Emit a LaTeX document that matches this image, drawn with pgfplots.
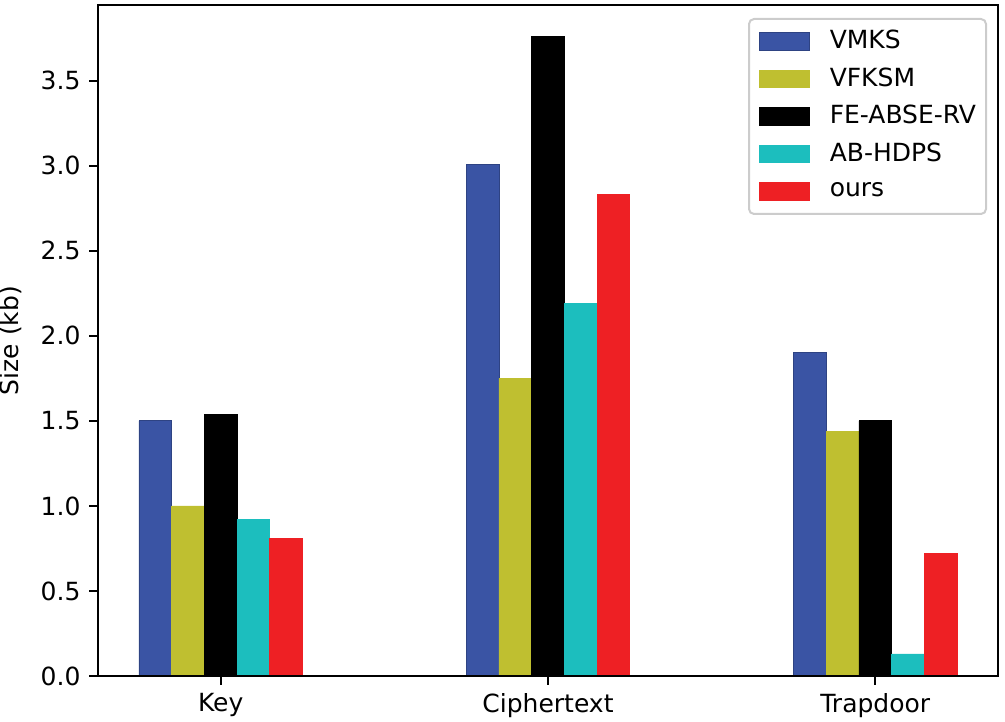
\documentclass[border=0pt]{standalone}
\usepackage{fontspec}
\setmainfont{DejaVu Sans}
\usepackage{pgfplots}
\pgfplotsset{compat=1.18}

\definecolor{cVMKS}{HTML}{3A54A4}
\definecolor{cVFKSM}{HTML}{BFBF30}
\definecolor{cFE}{HTML}{000000}
\definecolor{cAB}{HTML}{1CBEBE}
\definecolor{cOurs}{HTML}{EE2024}

\begin{document}
\begin{tikzpicture}
\begin{axis}[
  scale only axis,
  width=360pt, height=268.4pt,
  xmin=-0.375, xmax=2.375,
  ymin=0, ymax=3.945,
  xtick={0,1,2},
  xticklabels={Key,Ciphertext,Trapdoor},
  ytick={0,0.5,...,3.5},
  yticklabel style={/pgf/number format/.cd, fixed, fixed zerofill, precision=1},
  /pgf/number format/assume math mode=true,
  tick align=outside,
  xtick pos=bottom, ytick pos=left,
  major tick length=3.5pt,
  every tick/.style={black, line width=0.8pt},
  axis line style={line width=0.8pt},
  axis on top,
  ylabel={Size (kb)},
  ylabel style={at={(ticklabel cs:0.5,4pt)}, inner sep=0pt, anchor=south},
  legend cell align=left,
  legend style={
    at={(0.9878,0.9806)}, anchor=north east,
    draw=black!20, line width=0.8pt, rounded corners=2pt, fill=white,
    inner xsep=4pt, inner ysep=1.5pt,
    /tikz/column sep=8pt, /tikz/row sep=0pt,
    nodes={inner sep=0pt, minimum height=15pt},
    font=\fontsize{10}{12}\selectfont,
  },
  mybar/.style={
    ybar, bar width=0.1, line width=0.3pt,
    legend image code/.code={\fill[##1, sharp corners] (0pt,-3.5pt) rectangle (20pt,3.5pt);}
  },
]
\addplot[mybar, bar shift=-0.2, fill=cVMKS, draw=cVMKS!80!black]
  coordinates {(0,1.50) (1,3.01) (2,1.90)};
\addlegendentry{VMKS}
\addplot[mybar, bar shift=-0.1, fill=cVFKSM, draw=cVFKSM]
  coordinates {(0,1.00) (1,1.75) (2,1.44)};
\addlegendentry{VFKSM}
\addplot[mybar, bar shift=0, fill=cFE, draw=cFE]
  coordinates {(0,1.54) (1,3.76) (2,1.50)};
\addlegendentry{FE-ABSE-RV}
\addplot[mybar, bar shift=0.1, fill=cAB, draw=cAB]
  coordinates {(0,0.92) (1,2.19) (2,0.13)};
\addlegendentry{AB-HDPS}
\addplot[mybar, bar shift=0.2, fill=cOurs, draw=cOurs]
  coordinates {(0,0.81) (1,2.83) (2,0.72)};
\addlegendentry{ours}
\end{axis}
\pgfresetboundingbox
\path[use as bounding box] ([xshift=-39.2pt,yshift=-18.4pt]current axis.south west)
  rectangle ([xshift=2.8pt,yshift=2pt]current axis.north east);
\end{tikzpicture}
\end{document}
